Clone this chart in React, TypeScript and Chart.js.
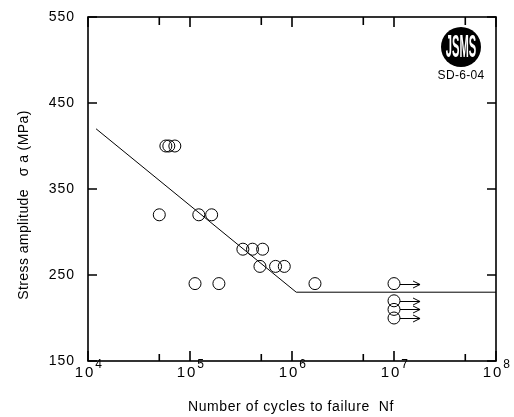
import React, { useEffect, useRef } from "react";
import { Chart, registerables } from "chart.js";

Chart.register(...registerables);

// ---- data ----
const failureCycles = [5.8e4, 6.2e4, 7.1e4, 5.0e4, 1.22e5, 1.63e5, 3.3e5, 4.1e5, 5.15e5, 4.85e5, 6.9e5, 8.4e5, 1.12e5, 1.92e5, 1.68e6];
const failureStress = [400, 400, 400, 320, 320, 320, 280, 280, 280, 260, 260, 260, 240, 240, 240];
const runoutCycles = [1e7, 1e7, 1e7, 1e7];
const runoutStress = [240, 220, 210, 200];
const runoutArrowEnd = [1.8e7, 1.8e7, 1.8e7, 1.8e7];
const curveCycles = [1.2e4, 1.1e6, 1e8];
const curveStress = [420, 230, 230];
const yTicks = [150, 250, 350, 450, 550];
const yTickLabels = ["150", "250", "350", "450", "550"];
const xMajorTicks = [1e4, 1e5, 1e6, 1e7, 1e8];
const xMinorTicks = [5e4, 5e5, 5e6, 5e7];
const xTickBase = "10";
const xTickExponents = ["4", "5", "6", "7", "8"];
const xTitle = "Number of cycles to failure  Nf";
const yTitle = "Stress amplitude   \u03c3 a (MPa)";
const logoText = "JSMS";
const logoCode = "SD-6-04";

const FONT = "'Liberation Sans', Arial, sans-serif";

const decorPlugin = {
  id: "decor",
  afterDraw(chart: any) {
    const ctx = chart.ctx as any;
    const { left, right, top, bottom } = chart.chartArea;
    const xs = chart.scales.x;
    const ys = chart.scales.y;
    ctx.save();
    ctx.strokeStyle = "#000";
    ctx.fillStyle = "#000";

    // frame
    ctx.lineWidth = 1.6;
    ctx.strokeRect(left, top, right - left, bottom - top);

    // y ticks (inward, left & right)
    ctx.beginPath();
    yTicks.forEach((v) => {
      const y = ys.getPixelForValue(v);
      ctx.moveTo(left, y);
      ctx.lineTo(left + 9, y);
      ctx.moveTo(right, y);
      ctx.lineTo(right - 9, y);
    });
    // x ticks (inward, bottom & top)
    xMajorTicks.forEach((v) => {
      const x = xs.getPixelForValue(v);
      ctx.moveTo(x, bottom);
      ctx.lineTo(x, bottom - 10);
      ctx.moveTo(x, top);
      ctx.lineTo(x, top + 10);
    });
    xMinorTicks.forEach((v) => {
      const x = xs.getPixelForValue(v);
      ctx.moveTo(x, bottom);
      ctx.lineTo(x, bottom - 7);
      ctx.moveTo(x, top);
      ctx.lineTo(x, top + 8);
    });
    ctx.stroke();

    // y tick labels
    ctx.font = `14px ${FONT}`;
    ctx.letterSpacing = "1px";
    ctx.textAlign = "right";
    ctx.textBaseline = "middle";
    yTicks.forEach((v, i) => {
      ctx.fillText(yTickLabels[i], left - 13, ys.getPixelForValue(v));
    });

    // x tick labels with superscript
    xMajorTicks.forEach((v, i) => {
      const x = xs.getPixelForValue(v);
      ctx.font = `15px ${FONT}`;
      ctx.letterSpacing = "2px";
      ctx.textAlign = "left";
      ctx.textBaseline = "alphabetic";
      const w = ctx.measureText(xTickBase).width;
      const x0 = x - 3 - w / 2;
      ctx.fillText(xTickBase, x0, bottom + 16);
      ctx.font = `12px ${FONT}`;
      ctx.letterSpacing = "0px";
      ctx.fillText(xTickExponents[i], x0 + w, bottom + 7);
    });

    // run-out arrows
    ctx.lineWidth = 1;
    runoutCycles.forEach((c, i) => {
      const x0 = xs.getPixelForValue(c) + 6;
      const x1 = xs.getPixelForValue(runoutArrowEnd[i]);
      const y = Math.round(ys.getPixelForValue(runoutStress[i])) + 0.5;
      ctx.beginPath();
      ctx.moveTo(x0, y);
      ctx.lineTo(x1, y);
      ctx.moveTo(x1 - 7, y - 3.5);
      ctx.lineTo(x1, y);
      ctx.lineTo(x1 - 7, y + 3.5);
      ctx.stroke();
    });

    // titles
    ctx.font = `14px ${FONT}`;
    ctx.letterSpacing = "0.6px";
    ctx.textAlign = "center";
    ctx.textBaseline = "middle";
    ctx.fillText(xTitle, (left + right) / 2 - 1, 407);
    ctx.save();
    ctx.translate(24, 205);
    ctx.rotate(-Math.PI / 2);
    ctx.letterSpacing = "0.4px";
    ctx.fillText(yTitle, 0, 0);
    ctx.restore();
    ctx.letterSpacing = "0px";

    // logo
    const lx = 461;
    const ly = 47;
    ctx.beginPath();
    ctx.arc(lx, ly, 20, 0, Math.PI * 2);
    ctx.fill();
    ctx.save();
    ctx.translate(lx, ly);
    ctx.scale(0.8, 2.3);
    ctx.fillStyle = "#fff";
    ctx.font = `bold 14px ${FONT}`;
    ctx.textAlign = "center";
    ctx.textBaseline = "middle";
    ctx.fillText(logoText, 0, 0.5);
    ctx.restore();
    ctx.fillStyle = "#000";
    ctx.font = `12px ${FONT}`;
    ctx.letterSpacing = "0.3px";
    ctx.textAlign = "center";
    ctx.textBaseline = "middle";
    ctx.fillText(logoCode, lx, 76);
    ctx.letterSpacing = "0px";

    ctx.restore();
  },
};

export default function App() {
  const ref = useRef<HTMLCanvasElement | null>(null);
  useEffect(() => {
    if (!ref.current) return;
    const pointStyle = {
      pointRadius: 6,
      pointBorderWidth: 1,
      pointBorderColor: "#000",
      pointBackgroundColor: "rgba(0,0,0,0)",
      showLine: false,
    };
    const chart = new Chart(ref.current, {
      type: "scatter",
      data: {
        datasets: [
          {
            label: "curve",
            data: curveCycles.map((c, i) => ({ x: c, y: curveStress[i] })),
            showLine: true,
            borderColor: "#000",
            borderWidth: 1,
            pointRadius: 0,
            tension: 0,
          },
          {
            label: "failure",
            data: failureCycles.map((c, i) => ({ x: c, y: failureStress[i] })),
            ...pointStyle,
          },
          {
            label: "runout",
            data: runoutCycles.map((c, i) => ({ x: c, y: runoutStress[i] })),
            ...pointStyle,
          },
        ],
      },
      options: {
        responsive: false,
        animation: false,
        devicePixelRatio: 1,
        layout: { padding: { left: 88, top: 17, right: 18, bottom: 56 } },
        plugins: { legend: { display: false }, tooltip: { enabled: false } },
        scales: {
          x: { type: "logarithmic", min: 1e4, max: 1e8, display: false },
          y: { type: "linear", min: 150, max: 550, display: false },
        },
      },
      plugins: [decorPlugin],
    } as any);
    return () => chart.destroy();
  }, []);
  return (
    <div style={{ position: "absolute", left: 0, top: 0, width: 514, height: 417, background: "#fff" }}>
      <canvas ref={ref} width={514} height={417} />
    </div>
  );
}
